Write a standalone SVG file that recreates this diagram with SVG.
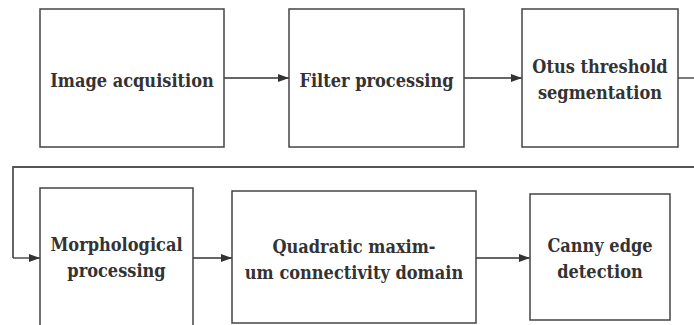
<svg xmlns="http://www.w3.org/2000/svg" width="694" height="325" viewBox="0 0 694 325">
<defs>
<marker id="arr" markerWidth="12" markerHeight="10" refX="11" refY="5" orient="auto" markerUnits="userSpaceOnUse">
<path d="M0,1 L11,5 L0,9 Z" fill="#333"/>
</marker>
<style>
.box{fill:#fff;stroke:#444;stroke-width:1.5}
.t{font-family:'DejaVu Serif Condensed','DejaVu Serif',serif;font-stretch:condensed;font-weight:bold;font-size:18px;fill:#333;text-anchor:middle}
.c{fill:none;stroke:#333;stroke-width:1.3}
.loop{fill:none;stroke:#555;stroke-width:1.8}
</style>
</defs>
<rect width="694" height="325" fill="#fff"/>
<g id="connectors">
<line class="c" x1="224" y1="78" x2="289" y2="78" marker-end="url(#arr)"/>
<line class="c" x1="464" y1="78" x2="522" y2="78" marker-end="url(#arr)"/>
<line class="c" x1="678" y1="78" x2="700" y2="78"/>
<polyline class="loop" points="700,167 13,167 13,258"/>
<line class="c" x1="13" y1="258" x2="40" y2="258" marker-end="url(#arr)"/>
<line class="c" x1="193" y1="258" x2="232" y2="258" marker-end="url(#arr)"/>
<line class="c" x1="476" y1="258" x2="530" y2="258" marker-end="url(#arr)"/>
</g>
<g id="n1"><rect class="box" x="40" y="9" width="184" height="138"/><text class="t" x="132" y="87">Image acquisition</text></g>
<g id="n2"><rect class="box" x="289" y="9" width="175" height="138"/><text class="t" x="376.5" y="87">Filter processing</text></g>
<g id="n3"><rect class="box" x="522" y="9" width="156" height="138"/><text class="t" x="600" y="73">Otus threshold</text><text class="t" x="600" y="99">segmentation</text></g>
<g id="n4"><rect class="box" x="40" y="188" width="153" height="150"/><text class="t" x="116.5" y="251">Morphological</text><text class="t" x="116.5" y="277">processing</text></g>
<g id="n5"><rect class="box" x="232" y="191" width="244" height="132"/><text class="t" x="354" y="253">Quadratic maxim-</text><text class="t" x="354" y="279">um connectivity domain</text></g>
<g id="n6"><rect class="box" x="530" y="194" width="140" height="126"/><text class="t" x="600" y="252">Canny edge</text><text class="t" x="600" y="278">detection</text></g>
</svg>
